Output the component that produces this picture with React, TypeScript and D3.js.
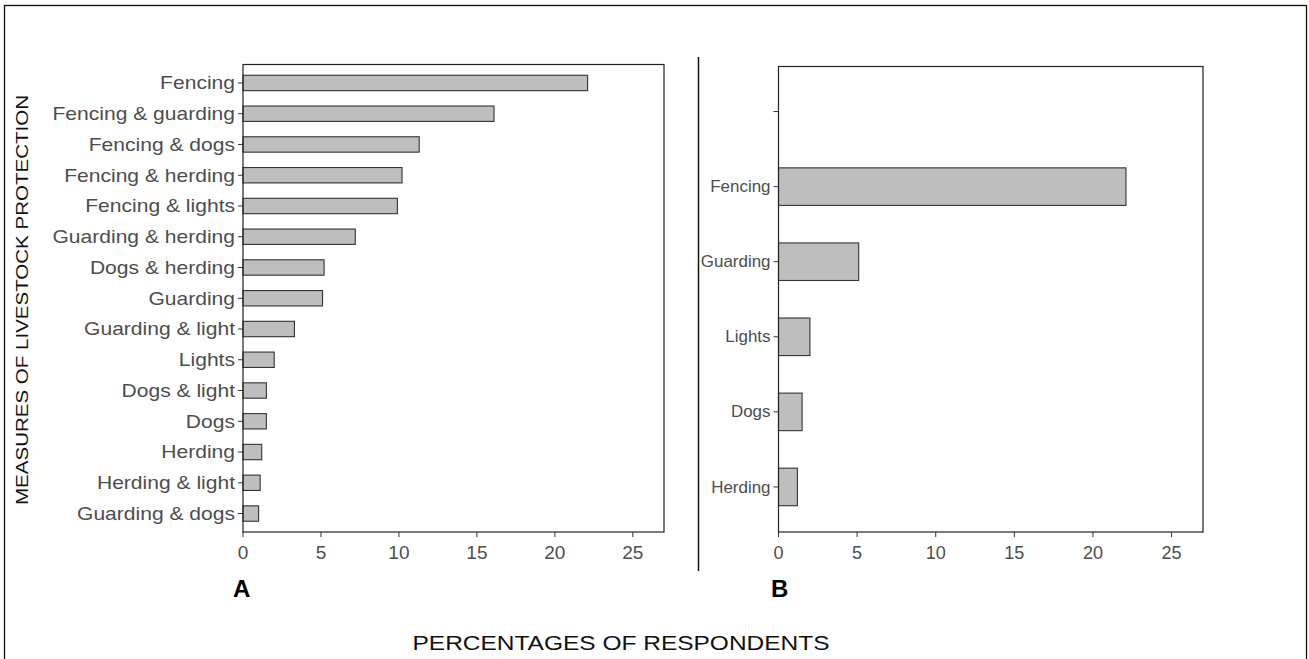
import React from "react";
import * as d3 from "d3";

const categoriesA = [
  "Fencing",
  "Fencing & guarding",
  "Fencing & dogs",
  "Fencing & herding",
  "Fencing & lights",
  "Guarding & herding",
  "Dogs & herding",
  "Guarding",
  "Guarding & light",
  "Lights",
  "Dogs & light",
  "Dogs",
  "Herding",
  "Herding & light",
  "Guarding & dogs",
];
const valuesA = [22.1, 16.1, 11.3, 10.2, 9.9, 7.2, 5.2, 5.1, 3.3, 2.0, 1.5, 1.5, 1.2, 1.1, 1.0];

const categoriesB = ["", "Fencing", "Guarding", "Lights", "Dogs", "Herding"];
const valuesB = [null, 22.1, 5.1, 2.0, 1.5, 1.2];

const xTicks = [0, 5, 10, 15, 20, 25];
const xMax = 27;

const yTitle = "MEASURES OF LIVESTOCK PROTECTION";
const xTitle = "PERCENTAGES OF RESPONDENTS";
const panelLabels = ["A", "B"];

type PanelProps = {
  cats: string[];
  vals: (number | null)[];
  x0: number;
  x1: number;
  y0: number;
  y1: number;
  fontSize: number;
  stretch: number;
  tickFont: number;
};

const FONT = "'Liberation Sans', Arial, sans-serif";

function Panel({ cats, vals, x0, x1, y0, y1, fontSize, stretch, tickFont }: PanelProps) {
  const x = d3.scaleLinear().domain([0, xMax]).range([x0, x1]);
  const y = d3
    .scalePoint<string>()
    .domain(cats.map((c, i) => c + "_" + i))
    .range([y0, y1])
    .padding(0.6);
  const step = y.step();
  const bh = step * 0.5;
  const labelColor = "#4d4d4d";
  return (
    <g>
      {cats.map((c, i) => {
        const v = vals[i];
        const cy = y(c + "_" + i) as number;
        return (
          <g key={"b" + i}>
            {v != null && (
              <rect
                x={x(0)}
                y={cy - bh / 2}
                width={x(v) - x(0)}
                height={bh}
                fill="#bebebe"
                stroke="#333333"
                strokeWidth={1.1}
              />
            )}
            <line x1={x0 - 5} x2={x0} y1={cy} y2={cy} stroke="#333" strokeWidth={1} />
            <text
              transform={`translate(${x0 - 8},${cy}) scale(${stretch},1)`}
              dy="0.35em"
              textAnchor="end"
              fontSize={fontSize}
              fill={labelColor}
              fontFamily={FONT}
            >
              {c}
            </text>
          </g>
        );
      })}
      <rect x={x0} y={y0} width={x1 - x0} height={y1 - y0} fill="none" stroke="#222" strokeWidth={1.2} />
      {xTicks.map((t) => (
        <g key={"t" + t}>
          <line x1={x(t)} x2={x(t)} y1={y1} y2={y1 + 5} stroke="#333" strokeWidth={1} />
          <text x={x(t)} y={y1 + 27} textAnchor="middle" fontSize={tickFont} fill={labelColor} fontFamily={FONT}>
            {t}
          </text>
        </g>
      ))}
    </g>
  );
}

export default function App() {
  return (
    <svg width={1309} height={659} style={{ position: "fixed", left: 0, top: 0, background: "#fff" }}>
      <rect x={0} y={0} width={1309} height={659} fill="#fff" />
      <rect x={4.5} y={5.5} width={1302} height={670} fill="none" stroke="#111" strokeWidth={1.3} />
      <line x1={698.5} x2={698.5} y1={57} y2={571} stroke="#111" strokeWidth={1.5} />
      <Panel
        cats={categoriesA}
        vals={valuesA}
        x0={243}
        x1={664}
        y0={64.5}
        y1={532}
        fontSize={18}
        stretch={1.17}
        tickFont={19}
      />
      <Panel
        cats={categoriesB}
        vals={valuesB}
        x0={778.5}
        x1={1203}
        y0={66.5}
        y1={532}
        fontSize={16}
        stretch={1.06}
        tickFont={18}
      />
      <text
        transform="translate(28,300) rotate(-90)"
        textAnchor="middle"
        fontSize={16}
        fill="#111"
        textLength={410}
        lengthAdjust="spacingAndGlyphs"
        fontFamily={FONT}
      >
        {yTitle}
      </text>
      <text
        x={621}
        y={650}
        textAnchor="middle"
        fontSize={20}
        fill="#111"
        textLength={417}
        lengthAdjust="spacingAndGlyphs"
        fontFamily={FONT}
      >
        {xTitle}
      </text>
      <text x={233} y={597} fontSize={24} fontWeight="bold" fill="#000" fontFamily={FONT}>
        {panelLabels[0]}
      </text>
      <text x={771} y={597} fontSize={24} fontWeight="bold" fill="#000" fontFamily={FONT}>
        {panelLabels[1]}
      </text>
    </svg>
  );
}
